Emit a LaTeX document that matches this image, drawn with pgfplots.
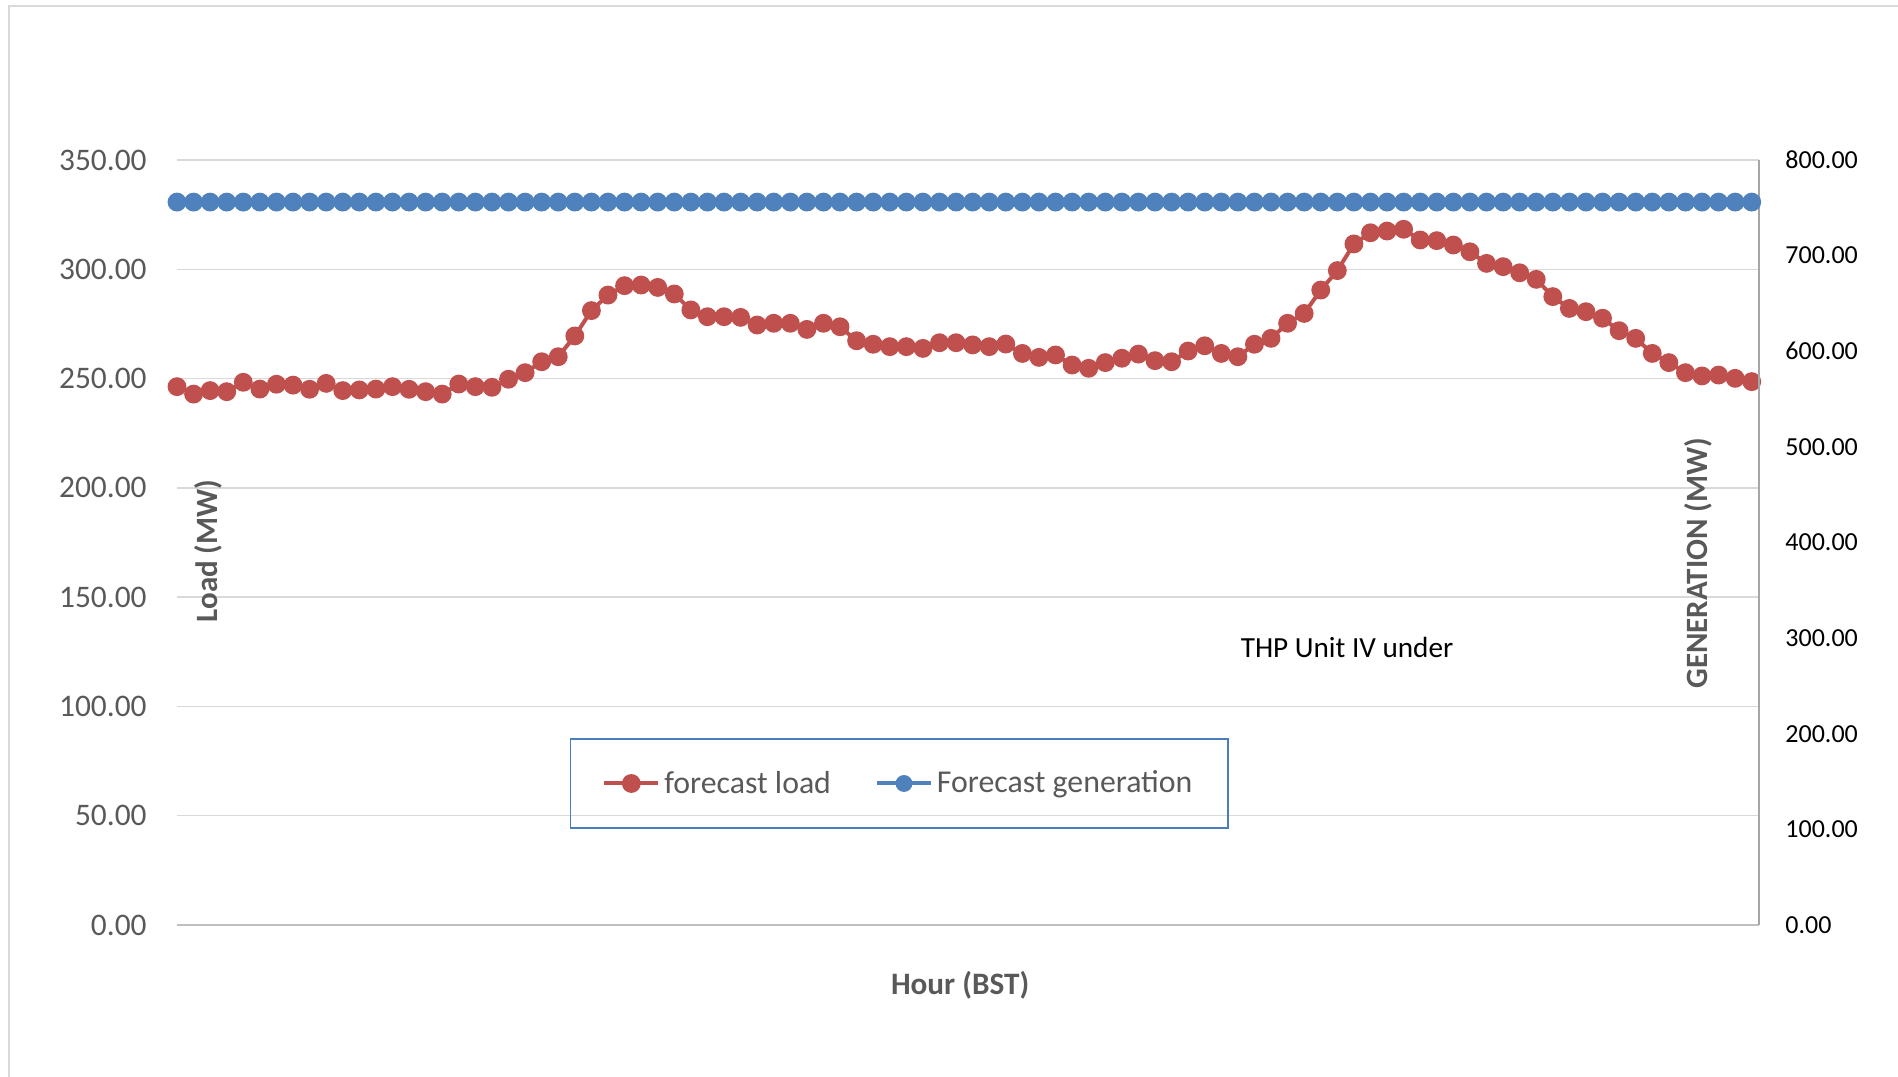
\documentclass[border=0pt]{standalone}
\usepackage{pgfplots}
\usepackage{pgfplotstable}
\pgfplotsset{compat=1.18}
\usepackage{fontspec}
\setmainfont{Carlito}

\definecolor{loadred}{HTML}{C0504D}
\definecolor{genblue}{HTML}{4F81BD}
\definecolor{gridgray}{HTML}{D9D9D9}
\definecolor{axisgray}{HTML}{BFBFBF}
\definecolor{rightgray}{HTML}{A6A6A6}
\definecolor{labelgray}{HTML}{595959}
\definecolor{legblue}{HTML}{4A7EBB}

% slot (15 min), forecast load (MW, left axis), forecast generation (MW, right axis)
\pgfplotstableread{
slot load gen
0 246.3 756
1 242.9 756
2 244.5 756
3 244.0 756
4 248.3 756
5 245.2 756
6 247.4 756
7 247.0 756
8 245.1 756
9 247.8 756
10 244.5 756
11 244.8 756
12 245.2 756
13 246.3 756
14 245.1 756
15 244.0 756
16 242.9 756
17 247.5 756
18 246.3 756
19 246.0 756
20 249.7 756
21 252.7 756
22 257.7 756
23 260.0 756
24 269.5 756
25 281.1 756
26 288.2 756
27 292.5 756
28 292.8 756
29 291.7 756
30 288.7 756
31 281.4 756
32 278.3 756
33 278.3 756
34 278.0 756
35 274.5 756
36 275.3 756
37 275.3 756
38 272.5 756
39 275.3 756
40 273.7 756
41 267.3 756
42 265.7 756
43 264.6 756
44 264.6 756
45 263.8 756
46 266.4 756
47 266.4 756
48 265.4 756
49 264.6 756
50 265.8 756
51 261.5 756
52 259.7 756
53 260.8 756
54 256.2 756
55 254.7 756
56 257.3 756
57 259.3 756
58 261.2 756
59 258.2 756
60 257.7 756
61 262.6 756
62 265.0 756
63 261.5 756
64 260.0 756
65 265.7 756
66 268.4 756
67 275.3 756
68 279.8 756
69 290.5 756
70 299.4 756
71 311.6 756
72 316.7 756
73 317.5 756
74 318.3 756
75 313.4 756
76 313.1 756
77 311.1 756
78 308.0 756
79 302.7 756
80 301.2 756
81 298.4 756
82 295.4 756
83 287.5 756
84 282.1 756
85 280.6 756
86 277.6 756
87 271.9 756
88 268.4 756
89 261.5 756
90 257.3 756
91 252.7 756
92 251.2 756
93 251.6 756
94 250.1 756
95 248.6 756
}\datatable

\pgfplotsset{
  common/.style={
    at={(0,0)}, anchor=south west,
    scale only axis, width=791pt, height=382.5pt,
    xmin=0, xmax=95.44, xtick=\empty,
    major tick length=0pt,
    /pgf/number format/assume math mode=true,
    clip=false,
  },
}

\begin{document}
\begin{tikzpicture}
  \path[use as bounding box] (-88.5pt,-75.5pt) rectangle (860.5pt,462.5pt);
  \draw[gridgray, line width=1pt] (-84pt,-90pt) -- (-84pt,459.5pt) -- (880pt,459.5pt);

  \begin{axis}[common,
      ymin=0, ymax=350, ytick={0,50,...,350},
      axis x line*=bottom, axis y line*=left,
      x axis line style={-, draw=axisgray, line width=1.2pt},
      y axis line style={draw=none},
      ymajorgrids, grid style={draw=gridgray, line width=0.75pt},
      yticklabel style={/pgf/number format/.cd, fixed, fixed zerofill, precision=2, /tikz/.cd,
        font=\fontsize{15.7}{18}\selectfont, text=labelgray, inner sep=0pt, xshift=-15pt},
      legend style={at={(rel axis cs:0.4566,0.185)}, anchor=center,
        draw=legblue, line width=0.75pt, fill=none,
        font=\fontsize{15.9}{18}\selectfont, text=labelgray,
        inner xsep=15.8pt, inner ysep=13pt,
        nodes={inner xsep=2pt, inner ysep=3pt},
        /tikz/every even column/.append style={column sep=20pt}},
      legend columns=2,
      legend image code/.code={\draw[mark repeat=2, mark phase=2, line width=2pt]
        plot coordinates {(0pt,0pt) (13.5pt,0pt) (27pt,0pt)};},
    ]
    \addplot[color=loadred, line width=2pt, mark=*, mark size=3.7pt,
      mark options={solid, fill=loadred, draw=loadred}] table[x=slot, y=load] {\datatable};
    \addlegendentry{forecast load}
    \addlegendimage{color=genblue, line width=2pt, mark=*, mark size=3.2pt,
      mark options={solid, fill=genblue, draw=genblue}}
    \addlegendentry{Forecast generation}

    \node[rotate=90, font=\fontsize{15.5}{18}\selectfont\bfseries, text=labelgray]
      at (rel axis cs:0.0196,0.489) {Load (MW)};
    \node[rotate=90, font=\fontsize{15.5}{18}\selectfont\bfseries, text=labelgray]
      at (rel axis cs:0.9614,0.473) {GENERATION (MW)};
    \node[font=\fontsize{14.6}{17}\selectfont, text=black]
      at (rel axis cs:0.7396,0.363) {THP Unit IV under};
    \node[font=\fontsize{15.6}{18}\selectfont\bfseries, text=labelgray]
      at (rel axis cs:0.495,0) [yshift=-30pt] {Hour (BST)};
  \end{axis}

  \begin{axis}[common,
      ymin=0, ymax=800, ytick={0,100,...,800},
      axis y line*=right, axis x line=none,
      y axis line style={-, draw=rightgray, line width=0.9pt},
      yticklabel style={/pgf/number format/.cd, fixed, fixed zerofill, precision=2, /tikz/.cd,
        font=\fontsize{13}{16}\selectfont, text=black, inner sep=0pt, xshift=13pt, anchor=west},
    ]
    \addplot[color=genblue, line width=2pt, mark=*, mark size=3.7pt,
      mark options={solid, fill=genblue, draw=genblue}] table[x=slot, y=gen] {\datatable};
  \end{axis}
\end{tikzpicture}
\end{document}
